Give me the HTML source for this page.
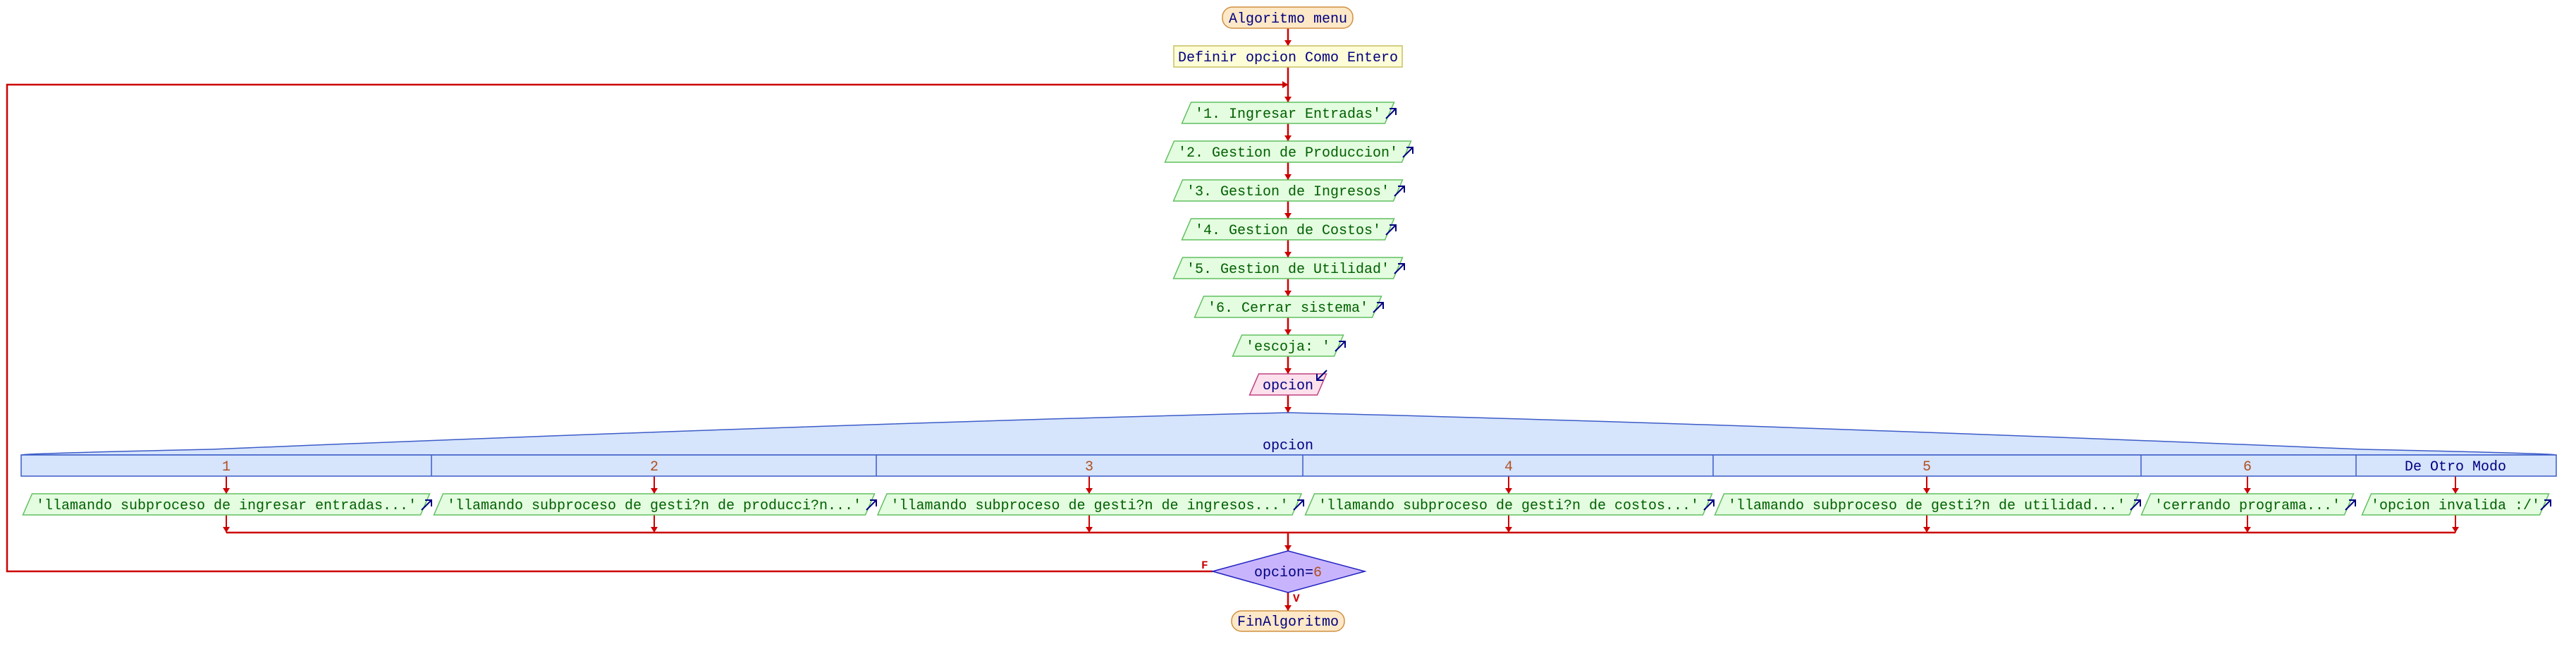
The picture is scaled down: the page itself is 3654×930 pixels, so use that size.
<!DOCTYPE html>
<html><head><meta charset="utf-8"><style>
html,body{margin:0;padding:0;background:#fff;}
svg{display:block;}
text{font-family:"Liberation Mono","DejaVu Sans Mono",monospace;font-size:20px;}
</style></head><body>
<svg width="3654" height="930" xmlns="http://www.w3.org/2000/svg">
<g stroke="#cc0000" stroke-width="2.5" fill="none">
<line x1="1827" y1="40" x2="1827" y2="65"/>
<line x1="1827" y1="95" x2="1827" y2="145"/>
<line x1="1827" y1="175" x2="1827" y2="200"/>
<line x1="1827" y1="230" x2="1827" y2="255"/>
<line x1="1827" y1="285" x2="1827" y2="310"/>
<line x1="1827" y1="340" x2="1827" y2="365"/>
<line x1="1827" y1="395" x2="1827" y2="420"/>
<line x1="1827" y1="450" x2="1827" y2="475"/>
<line x1="1827" y1="505" x2="1827" y2="530"/>
<line x1="1827" y1="560" x2="1827" y2="585"/>
<line x1="1827" y1="755" x2="1827" y2="781"/>
<line x1="1827" y1="840" x2="1827" y2="866"/>
<polyline points="1720,810 10,810 10,120 1827,120"/>
<line x1="321" y1="755" x2="3483" y2="755"/>
</g>
<g stroke="#cc0000" stroke-width="2" fill="none">
<line x1="321" y1="675" x2="321" y2="700"/><line x1="321" y1="730" x2="321" y2="755"/>
<line x1="928" y1="675" x2="928" y2="700"/><line x1="928" y1="730" x2="928" y2="755"/>
<line x1="1545" y1="675" x2="1545" y2="700"/><line x1="1545" y1="730" x2="1545" y2="755"/>
<line x1="2140" y1="675" x2="2140" y2="700"/><line x1="2140" y1="730" x2="2140" y2="755"/>
<line x1="2733" y1="675" x2="2733" y2="700"/><line x1="2733" y1="730" x2="2733" y2="755"/>
<line x1="3188" y1="675" x2="3188" y2="700"/><line x1="3188" y1="730" x2="3188" y2="755"/>
<line x1="3483" y1="675" x2="3483" y2="700"/><line x1="3483" y1="730" x2="3483" y2="755"/>
</g>
<g fill="#cc0000">
<polygon points="1822,57 1832,57 1827,65"/>
<polygon points="1822,137 1832,137 1827,145"/>
<polygon points="1822,192 1832,192 1827,200"/>
<polygon points="1822,247 1832,247 1827,255"/>
<polygon points="1822,302 1832,302 1827,310"/>
<polygon points="1822,357 1832,357 1827,365"/>
<polygon points="1822,412 1832,412 1827,420"/>
<polygon points="1822,467 1832,467 1827,475"/>
<polygon points="1822,522 1832,522 1827,530"/>
<polygon points="1822,577 1832,577 1827,585"/>
<polygon points="1822,773 1832,773 1827,781"/>
<polygon points="1822,858 1832,858 1827,866"/>
<polygon points="1819,115 1819,125 1827,120"/>
<polygon points="316,692 326,692 321,700"/><polygon points="316,747 326,747 321,755"/>
<polygon points="923,692 933,692 928,700"/><polygon points="923,747 933,747 928,755"/>
<polygon points="1540,692 1550,692 1545,700"/><polygon points="1540,747 1550,747 1545,755"/>
<polygon points="2135,692 2145,692 2140,700"/><polygon points="2135,747 2145,747 2140,755"/>
<polygon points="2728,692 2738,692 2733,700"/><polygon points="2728,747 2738,747 2733,755"/>
<polygon points="3183,692 3193,692 3188,700"/><polygon points="3183,747 3193,747 3188,755"/>
<polygon points="3478,692 3488,692 3483,700"/><polygon points="3478,747 3488,747 3483,755"/>
</g>
<text x="1704" y="806" fill="#cc0000" font-weight="bold" style="font-size:16px">F</text>
<text x="1834" y="853" fill="#cc0000" font-weight="bold" style="font-size:16px">V</text>

<rect x="1734" y="10" width="185" height="30" rx="14" fill="#fde8c8" stroke="#d09040" stroke-width="1.5"/>
<text x="1827" y="32" text-anchor="middle" fill="#000080">Algoritmo menu</text>
<rect x="1665" y="65" width="324" height="30" fill="#fdfdd8" stroke="#c8c060" stroke-width="1.5"/>
<text x="1827" y="87" text-anchor="middle" fill="#000080">Definir opcion Como Entero</text>

<g fill="#e4fce0" stroke="#60c060" stroke-width="1.5">
<polygon points="1689.5,145 1977.5,145 1964.5,175 1676.5,175"/>
<polygon points="1665.5,200 2001.5,200 1988.5,230 1652.5,230"/>
<polygon points="1677.5,255 1989.5,255 1976.5,285 1664.5,285"/>
<polygon points="1689.5,310 1977.5,310 1964.5,340 1676.5,340"/>
<polygon points="1677.5,365 1989.5,365 1976.5,395 1664.5,395"/>
<polygon points="1707.5,420 1959.5,420 1946.5,450 1694.5,450"/>
<polygon points="1761.5,475 1905.5,475 1892.5,505 1748.5,505"/>
<polygon points="45.5,700 609.5,700 596.5,730 32.5,730"/>
<polygon points="628.5,700 1240.5,700 1227.5,730 615.5,730"/>
<polygon points="1258,700 1846,700 1833,730 1245,730"/>
<polygon points="1864.5,700 2428.5,700 2415.5,730 1851.5,730"/>
<polygon points="2445.5,700 3033.5,700 3020.5,730 2432.5,730"/>
<polygon points="3050.5,700 3338.5,700 3325.5,730 3037.5,730"/>
<polygon points="3363.5,700 3615.5,700 3602.5,730 3350.5,730"/>
</g>
<polygon points="1785.5,530 1881.5,530 1868.5,560 1772.5,560" fill="#fce0ec" stroke="#c04080" stroke-width="1.5"/>
<g fill="#006000" text-anchor="middle">
<text x="1827" y="167">'1. Ingresar Entradas'</text>
<text x="1827" y="222">'2. Gestion de Produccion'</text>
<text x="1827" y="277">'3. Gestion de Ingresos'</text>
<text x="1827" y="332">'4. Gestion de Costos'</text>
<text x="1827" y="387">'5. Gestion de Utilidad'</text>
<text x="1827" y="442">'6. Cerrar sistema'</text>
<text x="1827" y="497">'escoja: '</text>
<text x="321" y="722">'llamando subproceso de ingresar entradas...'</text>
<text x="928" y="722">'llamando subproceso de gesti?n de producci?n...'</text>
<text x="1545.5" y="722">'llamando subproceso de gesti?n de ingresos...'</text>
<text x="2140" y="722">'llamando subproceso de gesti?n de costos...'</text>
<text x="2733" y="722">'llamando subproceso de gesti?n de utilidad...'</text>
<text x="3188" y="722">'cerrando programa...'</text>
<text x="3483" y="722">'opcion invalida :/'</text>
</g>
<text x="1827" y="552" text-anchor="middle" fill="#000080">opcion</text>

<g stroke="#000080" stroke-width="2" fill="none">
<path d="M1966,168 l14,-14 M1971,154 h9 v9"/>
<path d="M1990,223 l14,-14 M1995,209 h9 v9"/>
<path d="M1978,278 l14,-14 M1983,264 h9 v9"/>
<path d="M1966,333 l14,-14 M1971,319 h9 v9"/>
<path d="M1978,388 l14,-14 M1983,374 h9 v9"/>
<path d="M1948,443 l14,-14 M1953,429 h9 v9"/>
<path d="M1894,498 l14,-14 M1899,484 h9 v9"/>
<path d="M598,723 l14,-14 M603,709 h9 v9"/>
<path d="M1229,723 l14,-14 M1234,709 h9 v9"/>
<path d="M1835,723 l14,-14 M1840,709 h9 v9"/>
<path d="M2417,723 l14,-14 M2422,709 h9 v9"/>
<path d="M3022,723 l14,-14 M3027,709 h9 v9"/>
<path d="M3327,723 l14,-14 M3332,709 h9 v9"/>
<path d="M3604,723 l14,-14 M3609,709 h9 v9"/>
<path d="M1882,525 l-14,14 M1868,530 v9 h9"/>
</g>

<path d="M30,645 Q30,643 300,637 Q1200,600 1827,585 Q2450,600 3350,637 Q3626,643 3626,645 Z" fill="#d6e4fc" stroke="#3c5cc8" stroke-width="1.5"/>
<rect x="30" y="645" width="3596" height="30" fill="#d6e4fc" stroke="#3c5cc8" stroke-width="1.5"/>
<g stroke="#3c5cc8" stroke-width="1.5">
<line x1="612" y1="645" x2="612" y2="675"/>
<line x1="1243" y1="645" x2="1243" y2="675"/>
<line x1="1848" y1="645" x2="1848" y2="675"/>
<line x1="2430" y1="645" x2="2430" y2="675"/>
<line x1="3037" y1="645" x2="3037" y2="675"/>
<line x1="3342" y1="645" x2="3342" y2="675"/>
</g>
<text x="1827" y="637" text-anchor="middle" fill="#000080">opcion</text>
<g fill="#b05020" text-anchor="middle">
<text x="321" y="667">1</text><text x="928" y="667">2</text><text x="1545" y="667">3</text>
<text x="2140" y="667">4</text><text x="2733" y="667">5</text><text x="3188" y="667">6</text>
</g>
<text x="3483" y="667" text-anchor="middle" fill="#000080">De Otro Modo</text>

<polygon points="1720,810 1827,781 1936,810 1827,840" fill="#c8b4fc" stroke="#2020c0" stroke-width="1.5"/>
<text x="1827" y="817" text-anchor="middle" fill="#000080">opcion=<tspan fill="#b05020">6</tspan></text>

<rect x="1747" y="866" width="160" height="29" rx="14" fill="#fde8c8" stroke="#d09040" stroke-width="1.5"/>
<text x="1827" y="887" text-anchor="middle" fill="#000080">FinAlgoritmo</text>
</svg>
</body></html>
